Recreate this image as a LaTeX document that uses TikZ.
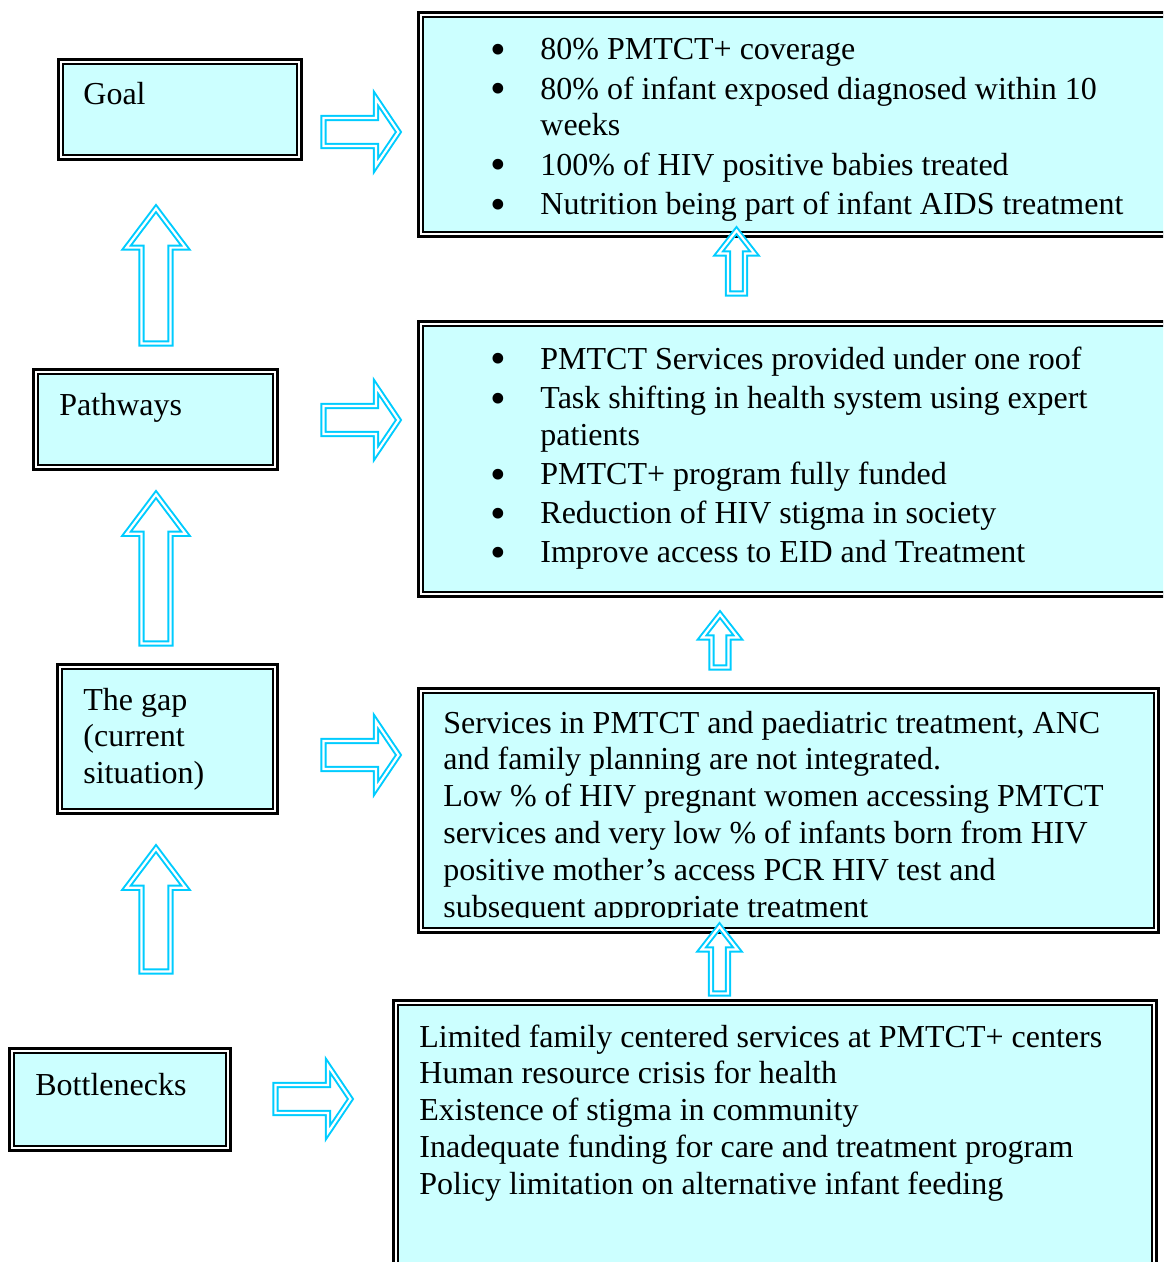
\documentclass[tikz,border=0pt]{standalone}
\usepackage{fontspec}
\setmainfont{Liberation Serif}
\usepackage{graphicx}
\usepackage{tikz}
\usetikzlibrary{shapes.arrows}

\definecolor{boxfill}{RGB}{204,255,255}
\definecolor{arrowcyan}{RGB}{0,204,255}

\newcommand{\bodyfont}{\fontsize{16}{18.4}\selectfont}
\newcommand{\bdot}{\smash{\raisebox{-0.15em}{\scalebox{1.4}{\textbullet}}}}

\tikzset{
  boxframe/.style={draw=black, double=white, double distance=0.9pt, line width=1.4pt,
    fill=boxfill, inner sep=0pt, outer sep=0pt, anchor=north west},
  boxtext/.style={inner sep=0pt, anchor=base west, font=\bodyfont},
  blockarr/.style={single arrow, draw=arrowcyan, double=white, double distance=1.1pt,
    line width=1pt, inner xsep=0pt, single arrow head indent=0pt, anchor=tail},
  widearr/.style={blockarr, inner ysep=6.5pt, minimum width=32.5pt, minimum height=37.5pt,
    single arrow head extend=9.75pt, single arrow tip angle=112},
  tallarr/.style={blockarr, rotate=90, inner ysep=6.75pt, minimum width=28.5pt,
    single arrow head extend=7.5pt, single arrow tip angle=74},
  smallarr/.style={blockarr, rotate=90, inner ysep=3.75pt, minimum width=17pt,
    single arrow head extend=4.75pt, single arrow tip angle=76}
}

\begin{document}
\begin{tikzpicture}[x=0.5pt, y=-0.5pt]
\useasboundingbox (0,0) rectangle (1163,1262);
\clip (0,0) rectangle (1163,1262);

% left column
\node[boxframe, minimum width=119.3pt, minimum height=47.8pt] (goal) at (60.7,61.7) {};
\node[boxframe, minimum width=119.8pt, minimum height=47.8pt] (pathways) at (35.7,371.7) {};
\node[boxframe, minimum width=107.8pt, minimum height=72.3pt] (gap) at (59.7,666.7) {};
\node[boxframe, minimum width=108.3pt, minimum height=48.8pt] (bottlenecks) at (11.7,1050.7) {};

% right column
\node[boxframe, minimum width=377.2pt, minimum height=109.8pt] (targets) at (420.7,14.7) {};
\node[boxframe, minimum width=377.2pt, minimum height=135.3pt] (strategies) at (420.7,323.7) {};
\node[boxframe, minimum width=367.8pt, minimum height=119.8pt] (problems) at (420.7,690.7) {};
\node[boxframe, minimum width=379.3pt, minimum height=143.5pt] (barriers) at (395.7,1002.7) {};

% texts
\node[boxtext] (goaltext) at (83,105) {Goal};
\node[boxtext] (pathwaystext) at (59,415) {Pathways};
\node[boxtext] (gaptext) at (83,710) {\begin{tabular}[t]{@{}l@{}}
  The gap\\ (current\\ situation)\end{tabular}};
\node[boxtext] (bottleneckstext) at (35,1095) {Bottlenecks};

\node[boxtext] (targetstext) at (490,60) {\begin{tabular}[t]{@{}p{25pt}@{}l@{}}
  \bdot & 80\% PMTCT+ coverage\\[1.2pt]
  \bdot & 80\% of infant exposed diagnosed within 10\\
        & weeks\\[1.2pt]
  \bdot & 100\% of HIV positive babies treated\\[1.2pt]
  \bdot & Nutrition being part of infant AIDS treatment
  \end{tabular}};
\node[boxtext] (strategiestext) at (490,369) {\begin{tabular}[t]{@{}p{25pt}@{}l@{}}
  \bdot & PMTCT Services provided under one roof\\[1.2pt]
  \bdot & Task shifting in health system using expert\\
        & patients\\[1.2pt]
  \bdot & PMTCT+ program fully funded\\[1.2pt]
  \bdot & Reduction of HIV stigma in society\\[1.2pt]
  \bdot & Improve access to EID and Treatment
  \end{tabular}};
\begin{scope}
  \clip (420,690) rectangle (1160,917);
  \node[boxtext] (problemstext) at (443,733) {\begin{tabular}[t]{@{}l@{}}
    Services in PMTCT and paediatric treatment, ANC\\
    and family planning are not integrated.\\
    Low \% of HIV pregnant women accessing PMTCT\\
    services and very low \% of infants born from HIV\\
    positive mother’s access PCR HIV test and\\
    subsequent appropriate treatment\end{tabular}};
\end{scope}
\node[boxtext] (barrierstext) at (419,1047) {\begin{tabular}[t]{@{}l@{}}
  Limited family centered services at PMTCT+ centers\\
  Human resource crisis for health\\
  Existence of stigma in community\\
  Inadequate funding for care and treatment program\\
  Policy limitation on alternative infant feeding\end{tabular}};

% block arrows
\node[widearr] (goalarr) at (322.5,132) {};
\node[widearr] (pathwaysarr) at (322.5,420) {};
\node[widearr] (gaparr) at (322.5,755) {};
\node[widearr] (bottlenecksarr) at (274.5,1099) {};

\node[tallarr, minimum height=67.5pt] (uparrA) at (156,344.5) {};
\node[tallarr, minimum height=74.5pt] (uparrB) at (156,644.5) {};
\node[tallarr, minimum height=61.5pt] (uparrC) at (156,972.5) {};

\node[smallarr, minimum height=31.5pt] (smallarrA) at (736.5,294.5) {};
\node[smallarr, minimum height=26.5pt] (smallarrB) at (720,668.5) {};
\node[smallarr, minimum height=33.5pt] (smallarrC) at (719.5,994.5) {};
\end{tikzpicture}
\end{document}
